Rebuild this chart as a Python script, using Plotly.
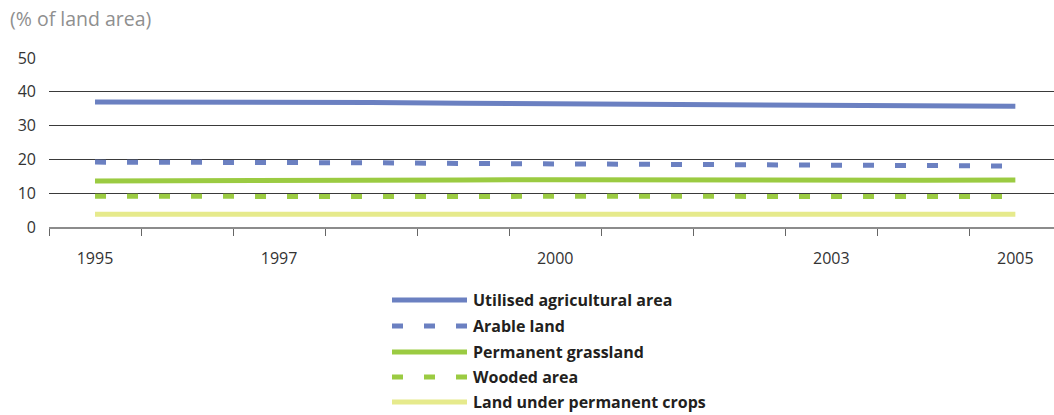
import plotly.graph_objects as go

# Years on the category axis; only some of them carry a label
years = ["1995", "1996", "1997", "1998", "1999", "2000", "2001", "2002", "2003", "2004", "2005"]
year_labels = ["1995", "", "1997", "", "", "2000", "", "", "2003", "", "2005"]

# Share of total land area (%)
utilised_agricultural_area = [37.0, 37.0, 37.0, 36.8, 36.6, 36.5, 36.3, 36.2, 36.1, 35.9, 35.7]
arable_land = [19.2, 19.2, 19.1, 19.0, 18.8, 18.6, 18.5, 18.4, 18.3, 18.2, 18.0]
permanent_grassland = [13.6, 13.6, 13.7, 13.8, 13.9, 14.0, 13.9, 13.8, 13.8, 13.8, 13.9]
wooded_area = [9.1, 9.0, 9.0, 8.9, 9.0, 9.1, 9.1, 9.0, 8.8, 8.9, 9.0]
permanent_crops = [3.8, 3.8, 3.8, 3.8, 3.8, 3.8, 3.8, 3.8, 3.8, 3.8, 3.8]

series_names = [
    "Utilised agricultural area",
    "Arable land",
    "Permanent grassland",
    "Wooded area",
    "Land under permanent crops",
]
series_values = [
    utilised_agricultural_area,
    arable_land,
    permanent_grassland,
    wooded_area,
    permanent_crops,
]

BLUE = "#6b80c1"
GREEN = "#9bcb42"
PALE = "#e6ea8c"
series_colors = [BLUE, BLUE, GREEN, GREEN, PALE]
series_dash = ["solid", "11px,21px", "solid", "11px,21px", "solid"]

FONT = "Open Sans"

fig = go.Figure()
for name, vals, col, dash in zip(series_names, series_values, series_colors, series_dash):
    fig.add_trace(go.Scatter(
        x=years, y=vals, name=name, mode="lines",
        line=dict(color=col, width=5, dash=dash),
        showlegend=False, hoverinfo="x+y+name",
    ))

# Plot area geometry (pixels) used to place the hand-built legend
W, H = 1054, 415
ML, MR, MT, MB = 49, 0, 58, 188
pw, ph = W - ML - MR, H - MT - MB


def px_x(p):
    return (p - ML) / pw


def px_y(p):
    return (H - MB - p) / ph


shapes = []
annotations = []
legend_rows = [300, 326, 352, 377, 402]
for name, col, dash, ry in zip(series_names, series_colors, series_dash, legend_rows):
    shapes.append(dict(
        type="line", xref="paper", yref="paper",
        x0=px_x(392), x1=px_x(467), y0=px_y(ry), y1=px_y(ry),
        line=dict(color=col, width=5, dash=dash),
    ))
    annotations.append(dict(
        text=f"<b>{name}</b>", xref="paper", yref="paper",
        x=px_x(471), y=px_y(ry), xanchor="left", yanchor="middle",
        showarrow=False, font=dict(family=FONT, size=16, color="#231f20"),
    ))

annotations.append(dict(
    text="(% of land area)", xref="paper", yref="paper",
    x=px_x(8), y=px_y(19), xanchor="left", yanchor="middle",
    showarrow=False, font=dict(family=FONT, size=19.5, color="#8f8f8f"),
))

fig.update_layout(
    width=W, height=H,
    margin=dict(l=ML, r=MR, t=MT, b=MB, pad=0),
    paper_bgcolor="white", plot_bgcolor="white",
    font=dict(family=FONT, size=16, color="#333333"),
    shapes=shapes, annotations=annotations,
    showlegend=False,
)
fig.update_xaxes(
    type="category", range=[-0.5, 10.42],
    tickmode="array", tickvals=years, ticktext=year_labels,
    tickson="boundaries", ticks="outside", ticklen=7, tickcolor="#666666", tickwidth=1,
    showline=True, linecolor="#8c8c8c", linewidth=1.5,
    showgrid=False, zeroline=False, ticklabelstandoff=16,
    tickfont=dict(family=FONT, size=16, color="#333333"),
)
fig.update_yaxes(
    range=[0, 50], tickvals=[0, 10, 20, 30, 40, 50],
    showgrid=True, gridcolor="#3a3a3a", gridwidth=1,
    zeroline=False, showline=False, ticks="", ticklabelstandoff=12,
    tickfont=dict(family=FONT, size=16, color="#333333"),
)

fig.write_html("out.html")
